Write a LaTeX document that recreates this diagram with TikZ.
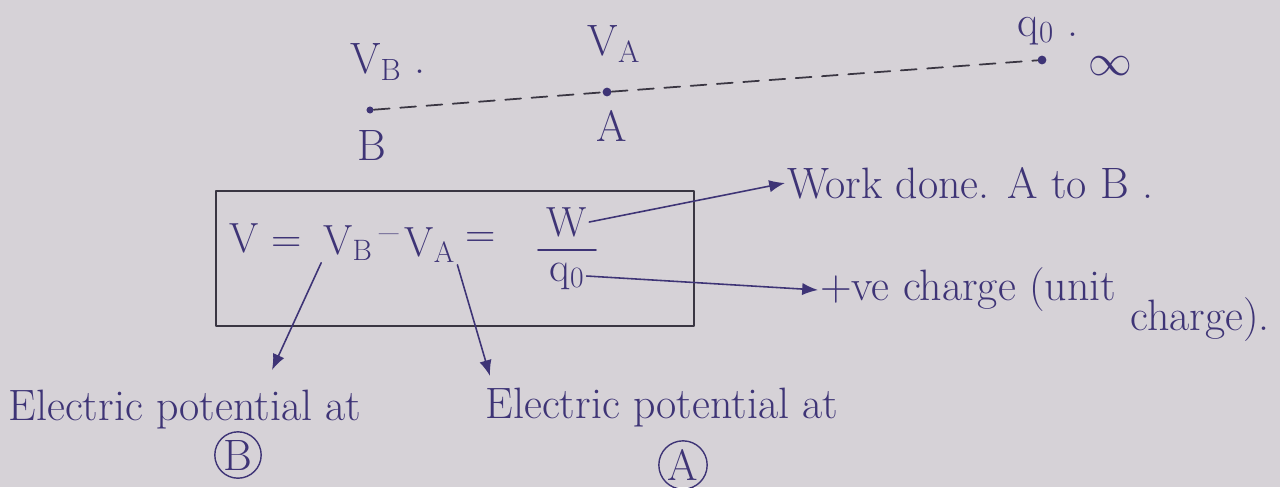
\documentclass[tikz,border=0pt]{standalone}
\usetikzlibrary{arrows.meta}
\definecolor{ink}{RGB}{62,52,118}
\definecolor{pencil}{RGB}{58,54,66}
\definecolor{paper}{RGB}{214,210,215}
\tikzset{
  note/.style={font=\fontsize{25}{27}\selectfont,text=ink,inner sep=1pt},
  eqn/.style={font=\fontsize{24}{26}\selectfont,text=ink,inner sep=1pt},
  pt/.style={circle,fill=ink,inner sep=0pt,minimum size=5pt},
  ring/.style={note,draw=ink,circle,line width=0.8pt,inner sep=1pt},
  tip/.style={draw=ink,line width=0.9pt,-{Latex[length=9pt,width=7pt]}},
}
\begin{document}
\begin{tikzpicture}[x=0.02cm,y=-0.02cm,line cap=round,line join=round]
  \fill[paper] (0,0) rectangle (1280,487);
  \useasboundingbox (0,0) rectangle (1280,487);
  % the line from B through A to infinity
  \node[pt,minimum size=4pt] (B) at (370,110) {};
  \node[pt] (A) at (607,92) {};
  \node[pt] (q) at (1042,60) {};
  \draw[pencil,line width=1pt,dash pattern=on 9pt off 6pt] (B) -- (A) -- (q);
  \node[note] (Blab) at (372,145) {B};
  \node[note] (VBlab) at (388,62) {V\textsubscript{B} .};
  \node[note] (Alab) at (612,126) {A};
  \node[note] (VAlab) at (614,44) {V\textsubscript{A}};
  \node[note] (qlab) at (1048,31) {q\textsubscript{0} .};
  \node[note,inner sep=0pt] (inf) at (1110,66) {$\infty$};
  % boxed formula
  \draw[pencil,line width=1pt] (216,191) rectangle (694,326);
  \node[eqn] (eqV) at (266,238) {V =};
  \node[eqn] (eqVB) at (348,243) {V\textsubscript{B}};
  \node[eqn] (eqMinus) at (389,240) {--};
  \node[eqn] (eqVA) at (430,245) {V\textsubscript{A}};
  \node[eqn] (eqEq) at (481,240) {=};
  \node[eqn] (eqW) at (567,222) {W};
  \node[eqn] (eqq) at (567,276) {q\textsubscript{0}};
  \draw[ink,line width=1pt] (538,250) -- (596,250);
  % notes with arrows
  \node[note,anchor=west] (work) at (785,183) {Work done. A to B .};
  \node[note,anchor=west] (chg) at (818,290) {+ve charge (unit};
  \node[note] (chg2) at (1200,320) {charge).};
  \draw[tip] (eqW.east) -- (work.west);
  \draw[tip] (eqq.east) -- (chg.west);
  \node[note] (elB) at (185,410) {Electric potential at};
  \node[ring] (cB) at (238,455) {B};
  \node[note] (elA) at (662,408) {Electric potential at};
  \node[ring] (cA) at (683,465) {A};
  \coordinate (vbend) at (272,370);
  \coordinate (vaend) at (490,376);
  \draw[tip] (eqVB.south west) -- (vbend);
  \draw[tip] (eqVA.south east) -- (vaend);
\end{tikzpicture}
\end{document}
